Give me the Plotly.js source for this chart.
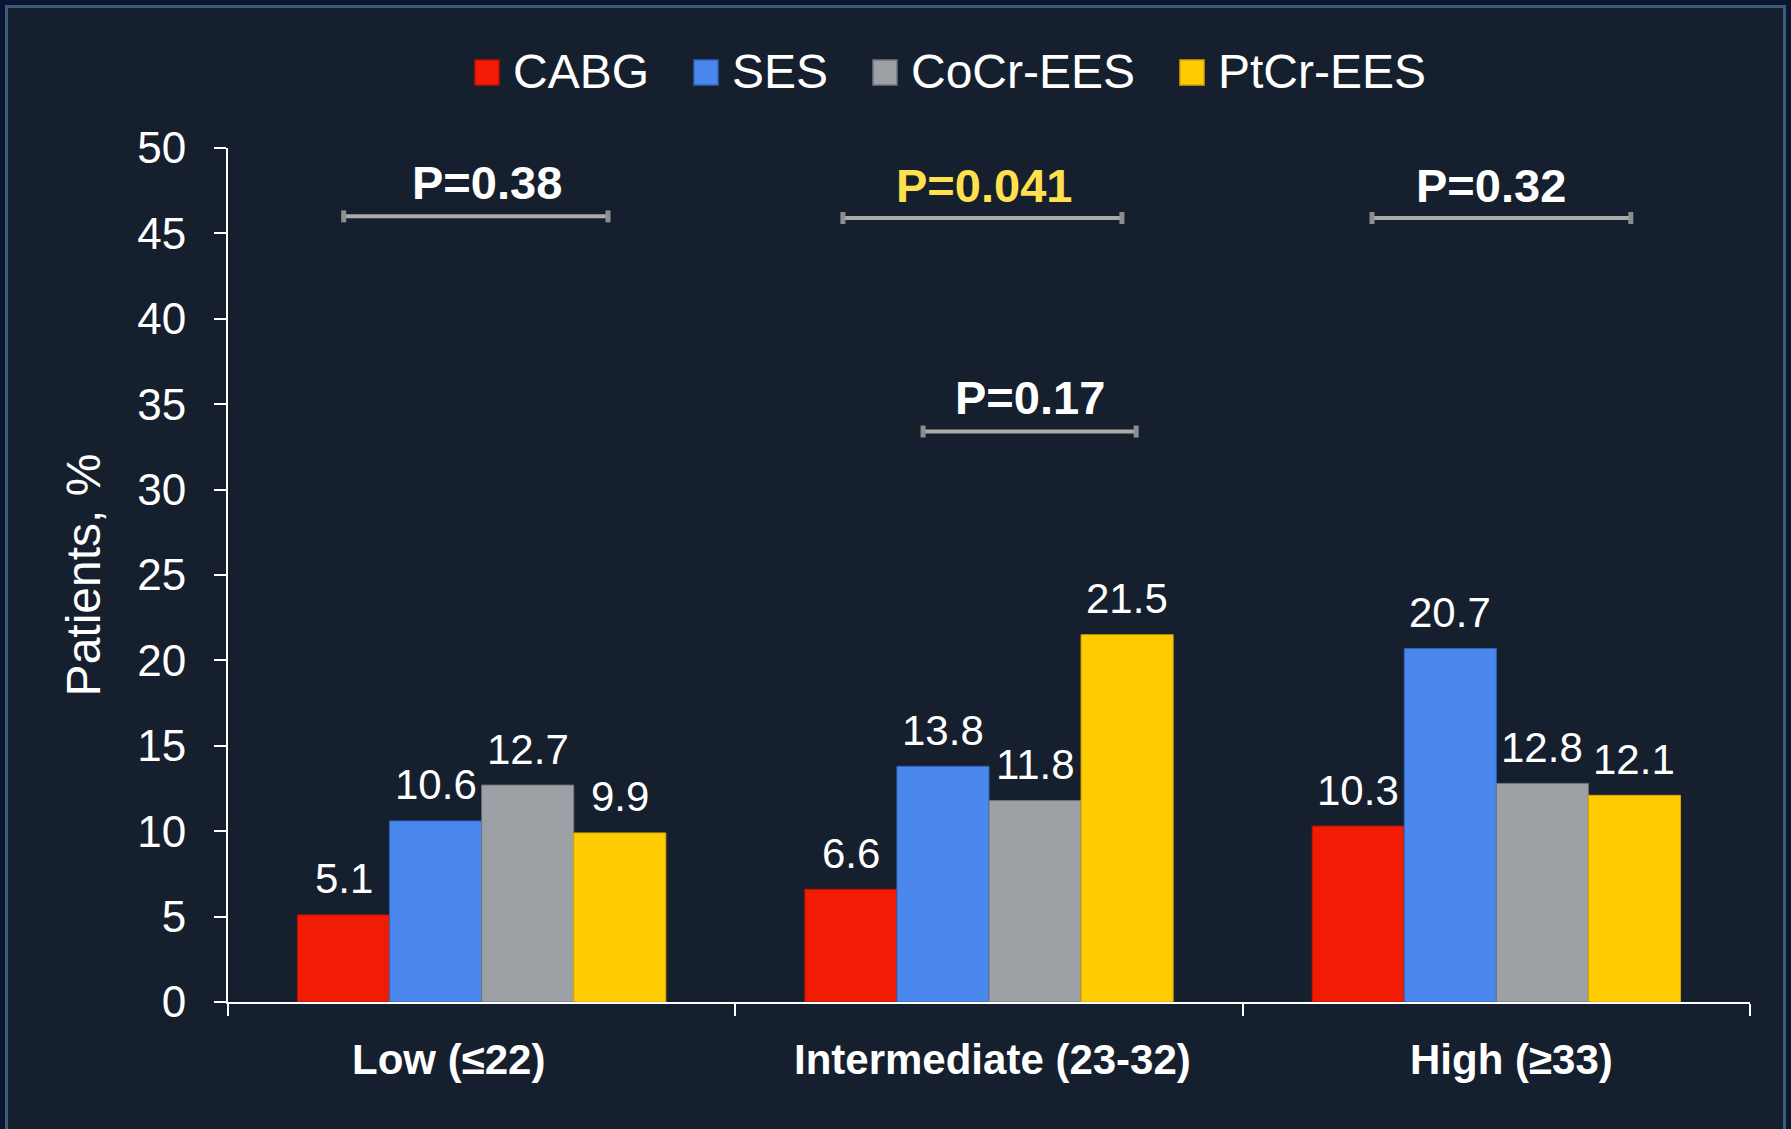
<!DOCTYPE html>
<html><head><meta charset="utf-8">
<script src="https://cdn.plot.ly/plotly-3.0.1.min.js"></script>
<style>html,body{margin:0;padding:0;background:#0B1631;}#chart{width:1791px;height:1129px;}</style>
</head><body><div id="chart"></div>
<script>
// ---- data ----
const categories = ['Low (≤22)', 'Intermediate (23-32)', 'High (≥33)'];
const seriesNames = ['CABG', 'SES', 'CoCr-EES', 'PtCr-EES'];
const cabgValues = [5.1, 6.6, 10.3];
const sesValues = [10.6, 13.8, 20.7];
const cocrValues = [12.7, 11.8, 12.8];
const ptcrValues = [9.9, 21.5, 12.1];
const yTickValues = [0, 5, 10, 15, 20, 25, 30, 35, 40, 45, 50];
const pLabels = ['P=0.38', 'P=0.041', 'P=0.17', 'P=0.32'];
const pCategory = [0, 1, 1, 2];

// ---- styles / layout constants ----
const seriesColors = ['#F21C04', '#4A88EE', '#9DA1A6', '#FFCC02'];
const seriesEdge = ['#B81200', '#2F62C0', '#70757B', '#D9A600'];
const pColors = ['#FFFFFF', '#FFE14F', '#FFFFFF', '#FFFFFF'];
const bracketStart = [-0.272, -0.288, -0.13, -0.245];
const bracketEnd = [0.249, 0.262, 0.29, 0.265];
const bracketY = [46.0, 45.9, 33.4, 45.9];
const pTextX = [0.01, -0.01, 0.08, -0.01];
const pTextY = [48.0, 47.8, 35.4, 47.8];
const legendSquarePx = [475, 694, 873, 1180];
const catLabelShift = [-0.065, 0.007, 0.029];

const W = 1791, H = 1129;
const M = {l: 228, r: 41, t: 148, b: 127};
const pw = W - M.l - M.r, ph = H - M.t - M.b;
const px2x = px => (px - M.l) / pw;
const py2y = py => (H - M.b - py) / ph;

const allValues = [cabgValues, sesValues, cocrValues, ptcrValues];
const bargap = 0.274;
const groupW = 1 - bargap;
const barW = groupW / allValues.length;
const FONT = 'Liberation Sans, Arial, sans-serif';

const traces = allValues.map((vals, i) => ({
  type: 'bar',
  name: seriesNames[i],
  x: categories,
  y: vals,
  marker: {color: seriesColors[i], line: {color: seriesEdge[i], width: 1}},
  showlegend: false,
  hoverinfo: 'x+y+name'
}));

const annotations = [];
const shapes = [];

// frame
shapes.push({type: 'rect', xref: 'paper', yref: 'paper', layer: 'below',
  x0: px2x(6.5), x1: px2x(1784.5), y0: py2y(1140), y1: py2y(6.5),
  fillcolor: '#161F2D', line: {color: '#3E5B7B', width: 3}});

// data labels
allValues.forEach((vals, i) => {
  vals.forEach((v, j) => {
    annotations.push({
      x: j - groupW / 2 + barW * (i + 0.5), y: v, xref: 'x', yref: 'y',
      text: v.toFixed(1), showarrow: false, yanchor: 'middle', yshift: 36,
      font: {family: FONT, size: 42, color: '#FFFFFF'}
    });
  });
});

// category labels (placed as in the original slide)
categories.forEach((c, j) => {
  annotations.push({
    x: j + catLabelShift[j], y: py2y(1059), xref: 'x', yref: 'paper',
    text: '<b>' + c + '</b>', showarrow: false, yanchor: 'middle',
    font: {family: FONT, size: 42, color: '#FFFFFF'}
  });
});

// p-values and brackets
pLabels.forEach((t, k) => {
  const c = pCategory[k];
  annotations.push({
    x: c + pTextX[k], y: pTextY[k], xref: 'x', yref: 'y', text: '<b>' + t + '</b>',
    showarrow: false, yanchor: 'middle',
    font: {family: FONT, size: 47, color: pColors[k]}
  });
  shapes.push({type: 'line', xref: 'x', yref: 'y', x0: c + bracketStart[k], x1: c + bracketEnd[k],
    y0: bracketY[k], y1: bracketY[k], line: {color: '#ABABAB', width: 4}});
  [bracketStart[k], bracketEnd[k]].forEach(e => {
    shapes.push({type: 'line', xref: 'x', yref: 'y', x0: c + e, x1: c + e,
      y0: bracketY[k] - 0.35, y1: bracketY[k] + 0.35, line: {color: '#8E8E8E', width: 5}});
  });
});

// legend (custom, larger squares)
seriesNames.forEach((n, i) => {
  const sx = legendSquarePx[i];
  shapes.push({type: 'rect', xref: 'paper', yref: 'paper',
    x0: px2x(sx), x1: px2x(sx + 24), y0: py2y(85), y1: py2y(60),
    fillcolor: seriesColors[i], line: {color: seriesEdge[i], width: 1.5}});
  annotations.push({xref: 'paper', yref: 'paper', x: px2x(sx + 36), y: py2y(72),
    xanchor: 'left', yanchor: 'middle', showarrow: false, text: n,
    font: {family: FONT, size: 48, color: '#FFFFFF'}});
});

const layout = {
  width: W, height: H,
  margin: M,
  paper_bgcolor: '#0B1631',
  plot_bgcolor: 'rgba(0,0,0,0)',
  barmode: 'group', bargap: bargap, bargroupgap: 0,
  showlegend: false,
  font: {family: FONT, color: '#FFFFFF'},
  xaxis: {
    type: 'category', range: [-0.5, 2.5], showgrid: false, zeroline: false,
    showline: true, linecolor: '#FFFFFF', linewidth: 2,
    ticks: 'outside', tickson: 'boundaries', ticklen: 12, tickwidth: 2, tickcolor: '#FFFFFF',
    showticklabels: false
  },
  yaxis: {
    range: [0, 50], tickvals: yTickValues, showgrid: false, zeroline: false,
    showline: true, linecolor: '#FFFFFF', linewidth: 2,
    ticks: 'outside', ticklen: 12, tickwidth: 2, tickcolor: '#FFFFFF',
    tickfont: {family: FONT, size: 44, color: '#FFFFFF'},
    ticklabelstandoff: 19,
    title: {text: 'Patients, %', font: {family: FONT, size: 48, color: '#FFFFFF'}, standoff: 21}
  },
  shapes: shapes,
  annotations: annotations
};

Plotly.newPlot('chart', traces, layout, {displayModeBar: false, staticPlot: true});
</script>
</body></html>
